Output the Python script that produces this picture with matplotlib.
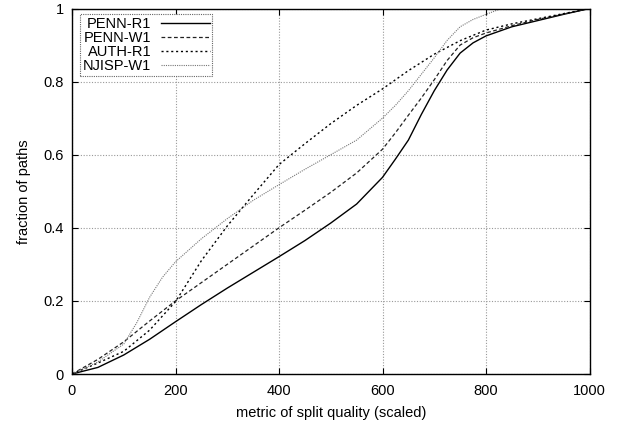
import matplotlib
matplotlib.use("Agg")
import matplotlib.pyplot as plt

plt.rcParams['font.family'] = ['Liberation Sans', 'DejaVu Sans']
plt.rcParams['font.size'] = 10.5

x_penn_r1 = [0, 50, 100, 150, 200, 250, 300, 350, 400, 450, 500, 550,
             600, 625, 650, 675, 700, 725, 750, 775, 800, 850, 900, 950, 1000]
penn_r1 = [0, 0.018, 0.052, 0.095, 0.143, 0.19, 0.235, 0.278, 0.321, 0.365, 0.413, 0.465,
           0.538, 0.588, 0.64, 0.71, 0.775, 0.832, 0.878, 0.906, 0.925, 0.95, 0.967, 0.984, 1.0]

x_penn_w1 = [0, 50, 100, 150, 200, 250, 300, 350, 400, 450, 500, 550,
             600, 625, 650, 675, 700, 725, 750, 775, 800, 850, 900, 950, 1000]
penn_w1 = [0, 0.04, 0.088, 0.145, 0.2, 0.25, 0.3, 0.35, 0.4, 0.448, 0.497, 0.55,
           0.615, 0.66, 0.708, 0.755, 0.805, 0.858, 0.9, 0.92, 0.933, 0.953, 0.97, 0.985, 1.0]

x_auth_r1 = [0, 50, 100, 150, 200, 250, 300, 350, 400, 450, 500, 550,
             600, 650, 700, 750, 800, 850, 900, 950, 1000]
auth_r1 = [0, 0.03, 0.062, 0.12, 0.198, 0.31, 0.405, 0.49, 0.573, 0.63, 0.685, 0.735,
           0.78, 0.83, 0.875, 0.912, 0.941, 0.958, 0.972, 0.986, 1.0]

x_njisp_w1 = [0, 50, 100, 125, 150, 175, 200, 250, 300, 350, 400, 450, 500, 550,
              600, 625, 650, 675, 700, 725, 750, 775, 800, 830, 900, 1000]
njisp_w1 = [0, 0.033, 0.082, 0.14, 0.21, 0.265, 0.307, 0.37, 0.425, 0.475, 0.518, 0.56, 0.6, 0.64,
            0.7, 0.735, 0.775, 0.82, 0.865, 0.913, 0.95, 0.97, 0.984, 1.0, 1.0, 1.0]

labels = ["PENN-R1", "PENN-W1", "AUTH-R1", "NJISP-W1"]
xticks = [0, 200, 400, 600, 800, 1000]
yticks = [0, 0.2, 0.4, 0.6, 0.8, 1.0]
ytick_labels = ["0", "0.2", "0.4", "0.6", "0.8", "1"]

fig = plt.figure(figsize=(6.17, 4.25), dpi=100)
ax = fig.add_axes([72 / 617, 1 - 374 / 425, (589.5 - 72) / 617, (374 - 8.5) / 425])

ax.plot(x_penn_r1, penn_r1, color='black', lw=1.0, ls='-', label=labels[0])
ax.plot(x_penn_w1, penn_w1, color='#222222', lw=0.9, ls=(0, (3, 2)), label=labels[1])
ax.plot(x_auth_r1, auth_r1, color='black', lw=1.0, ls=(0, (1.5, 2)), label=labels[2])
ax.plot(x_njisp_w1, njisp_w1, color='#777777', lw=0.8, ls=(0, (1, 1)), label=labels[3])

ax.set_xlim(0, 1000)
ax.set_ylim(0, 1)
ax.set_xticks(xticks)
ax.set_yticks(yticks)
ax.set_yticklabels(ytick_labels)
ax.tick_params(direction='in', length=4, width=0.8, top=True, right=True, labelsize=10.5)
ax.tick_params(axis='x', pad=7)
ax.tick_params(axis='y', pad=6)
ax.grid(True, color='#999999', ls=(0, (1, 1.5)), lw=0.8)
for s in ax.spines.values():
    s.set_linewidth(1.0)

ax.set_xlabel("metric of split quality (scaled)", fontsize=10.5, labelpad=6)
ax.set_ylabel("fraction of paths", fontsize=10.5, labelpad=9)

leg = ax.legend(loc='upper left', bbox_to_anchor=(0.0155, 0.985), markerfirst=False,
                handlelength=3.3, handletextpad=0.7, borderpad=0.2, labelspacing=0.0,
                fancybox=False, framealpha=1, fontsize=10.5, borderaxespad=0.0)
fr = leg.get_frame()
fr.set_edgecolor('#666666')
fr.set_linestyle((0, (1, 1)))
fr.set_linewidth(0.8)

fig.savefig("out.png", dpi=100)
